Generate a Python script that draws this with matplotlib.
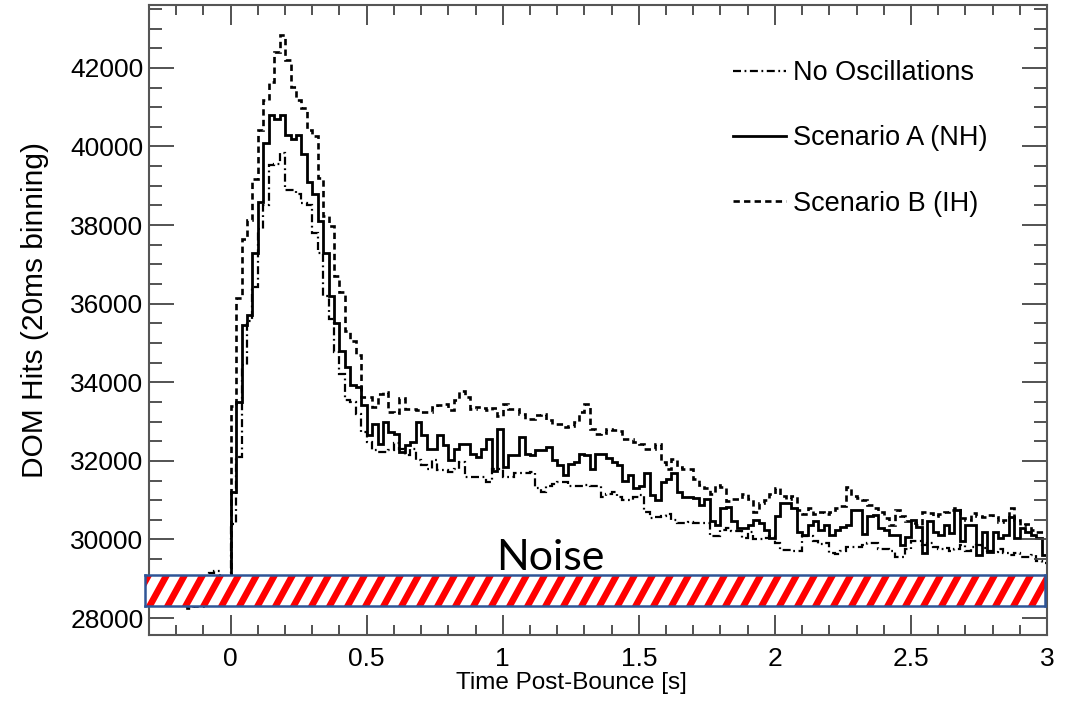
import numpy as np
import matplotlib
matplotlib.use("Agg")
import matplotlib.pyplot as plt
from matplotlib.patches import Polygon
from matplotlib.ticker import MultipleLocator, FuncFormatter

plt.rcParams['font.family'] = ['Liberation Sans', 'DejaVu Sans']

# 20 ms bins, -0.3 s .. 3.0 s
bin_edges = np.round(np.arange(-0.30, 3.0001, 0.02), 2)

# DOM hits per bin
no_osc = [
    28600, 28750, 28700, 28650, 28700, 28750, 28650, 28700, 28650, 28700, 28700, 29150, 29200, 28700, 28800,
    30400, 32100, 34450, 35560, 36430, 37890, 38520, 39540, 39560, 39840, 38900, 38900, 38800, 38570, 38520,
    37810, 37300, 36200, 35610, 34770,
    34200, 33540, 33500, 33200, 32740, 32490, 32270, 32230, 32230, 32270, 32450, 32300, 32140, 32300, 32015,
    31890, 31800, 32015, 31780, 31780, 31730, 31800,
    31970, 31600, 31600, 31600, 31600, 31470, 31800, 31800, 31600, 31600, 31680, 31700, 31700, 31720, 31300,
    31220, 31350, 31400, 31470, 31470, 31350, 31350, 31350,
    31390, 31350, 31350, 31090, 31150, 31200, 31090, 31010, 31010, 31090, 31130, 30710, 30540, 30560, 30600,
    30640, 30490, 30430, 30430, 30450, 30430, 30430,
    30430, 30100, 30100, 30250, 30300, 30220, 30220, 30030, 30180, 30000, 30000, 30050, 30100, 29900, 29730,
    29730, 29700, 29700, 30100, 30100, 29950, 29880, 29900,
    29650, 29620, 29700, 29800, 29800, 29800, 29850, 29900, 29900, 29750, 29750, 29700, 29550, 29550, 29750,
    29950, 29950, 29850, 29900, 29800, 29750,
    29780, 29700, 29750, 29860, 29700, 29820, 29850, 29780, 29700, 29690, 29750, 29650, 29600, 29650, 29560,
    29560, 29600, 29450, 29400,
]

scen_a = [
    28650, 28700, 28600, 28750, 28650, 28700, 28600, 28750, 28700, 28650, 28700, 28750, 28800, 28700, 28750,
    31200, 33500, 35450, 35700, 37300, 38600, 40100, 40800, 40700, 40800, 40300, 40200, 40300, 39800, 39100,
    38800, 38100, 37300, 36200, 35500,
    34800, 34380, 33920, 33870, 33410, 32650, 32945, 32440, 32990, 32735, 32690, 32230, 32400, 32490, 32990,
    32650, 32310, 32310, 32650, 32400, 32015, 32310,
    32440, 32440, 32180, 32100, 32310, 32565, 31750, 32820, 31850, 32140, 32140, 32610, 32180, 32140, 32270,
    32270, 32350, 32015, 31890, 31635, 31930, 31970, 32180,
    32140, 31800, 32180, 32180, 32070, 31970, 31890, 31500, 31650, 31320, 31350, 31680, 31130, 31000, 31470,
    31550, 31680, 31210, 31090, 31090, 31050, 30890,
    31040, 30460, 30380, 30790, 30830, 30460, 30280, 30280, 30380, 30500, 30420, 30240, 30050, 30590, 30920,
    30920, 30800, 30200, 30120, 30380, 30460, 30250, 30380,
    30110, 30240, 30330, 30380, 30750, 30750, 30150, 30590, 30620, 30280, 30240, 30110, 30110, 29860, 30070,
    30490, 30330, 29650, 30460, 30200, 30110,
    30370, 30160, 30750, 29950, 30370, 30370, 29600, 30200, 29690, 30200, 30030, 30110, 30580, 30030, 30280,
    30200, 30110, 30030, 29600,
]

scen_b = [
    28700, 28650, 28600, 28700, 28650, 28700, 28300, 28250, 28300, 28300, 28700, 28750, 28700, 28800, 28750,
    33400, 36150, 37640, 38140, 39160, 40430, 41190, 41650, 42410, 42840, 42200, 41520, 41190, 40980, 40430,
    40260, 39200, 38230, 37970, 36710,
    36300, 35300, 35060, 34700, 33630, 33630, 33380, 33700, 33750, 33240, 33220, 33600, 33330, 33330, 33300,
    33240, 33240, 33380, 33430, 33450, 33300, 33540,
    33790, 33630, 33330, 33370, 33350, 33300, 33350, 33150, 33450, 33330, 33330, 33200, 33070, 33070, 33170,
    33200, 33030, 32945, 32945, 32850, 32900, 33000, 33250,
    33450, 32820, 32690, 32720, 32820, 32780, 32760, 32565, 32565, 32490, 32420, 32310, 32310, 32440, 31970,
    31800, 32060, 31850, 31800, 31800, 31550, 31380,
    31300, 31170, 31380, 31330, 30970, 31040, 31040, 31170, 31040, 30710, 30920, 31000, 31150, 31300, 31110,
    31040, 31100, 30750, 30650, 30800, 30650, 30700, 30650,
    30700, 30790, 30850, 31340, 31100, 31050, 31000, 30870, 30800, 30710, 30550, 30380, 30750, 30590, 30460,
    30420, 30380, 30710, 30670, 30590, 30650,
    30700, 30750, 30790, 30540, 30500, 30670, 30600, 30580, 30620, 30580, 30450, 30500, 30790, 30500, 30370,
    30400, 30240, 30200, 30200,
]

# noise band drawn on top of the histogram
noise_t = (-0.315, 2.993)
noise_hits = (28305, 29095)

fig = plt.figure(figsize=(10.67, 7.01), dpi=100)
ax = fig.add_axes([149 / 1067, 1 - 635 / 701, 898 / 1067, 630 / 701])

ax.stairs(no_osc, bin_edges, baseline=None, color='black', lw=1.6,
          linestyle=(0, (3.6, 1.6, 0.8, 1.6)), label='No Oscillations')
ax.stairs(scen_a, bin_edges, baseline=None, color='black', lw=2.0,
          label='Scenario A (NH)')
ax.stairs(scen_b, bin_edges, baseline=None, color='black', lw=1.9,
          linestyle=(0, (2.4, 1.6)), label='Scenario B (IH)')

ax.set_xlim(-0.3, 3.0)
ax.set_ylim(27570, 43600)

ax.xaxis.set_major_locator(MultipleLocator(0.5))
ax.xaxis.set_minor_locator(MultipleLocator(0.1))
ax.yaxis.set_major_locator(MultipleLocator(2000))
ax.yaxis.set_minor_locator(MultipleLocator(500))
ax.xaxis.set_major_formatter(FuncFormatter(lambda v, p: '%g' % v))
ax.yaxis.set_major_formatter(FuncFormatter(lambda v, p: '%d' % v))

ax.tick_params(which='both', direction='in', top=True, right=True,
               color='#444444', width=1.3, labelsize=19)
ax.tick_params(axis='y', which='major', length=18, pad=4)
ax.tick_params(axis='y', which='minor', length=9.5)
ax.tick_params(axis='x', which='major', length=14.5, pad=9)
ax.tick_params(axis='x', which='minor', length=7.2)
for s in ax.spines.values():
    s.set_color('#555555')
    s.set_linewidth(1.5)

ax.set_xlabel('Time Post-Bounce [s]', fontsize=17.5)
ax.set_ylabel('DOM Hits (20ms binning)', fontsize=21.5)
ax.xaxis.set_label_coords((571 - 149) / 898, (635 - 672) / 630)
ax.yaxis.set_label_coords((35 - 149) / 898, (635 - 310) / 630)
ax.yaxis.label.set_va('center')

ax.legend(loc='upper left', bbox_to_anchor=((733 - 149) / 898, 1 - (60 - 5) / 630),
          frameon=False, fontsize=19.5, handlelength=1.95, handletextpad=0.25,
          labelspacing=1.45, borderpad=0, borderaxespad=0)

# band: own axes in pixel units over the data range of the noise level
(x0, y0), (x1, y1) = ax.transData.transform([(noise_t[0], noise_hits[0]),
                                             (noise_t[1], noise_hits[1])])
W, H = fig.bbox.width, fig.bbox.height
bax = fig.add_axes([x0 / W, y0 / H, (x1 - x0) / W, (y1 - y0) / H], zorder=5)
bw, bh = x1 - x0, y1 - y0
bax.set_xlim(0, bw)
bax.set_ylim(0, bh)
bax.set_xticks([])
bax.set_yticks([])
period, stripe, lean = 18.0, 7.5, 0.55 * bh
for s in np.arange(-lean - period, bw + period, period):
    bax.add_patch(Polygon([(s, 0), (s + stripe, 0), (s + stripe + lean, bh), (s + lean, bh)],
                          closed=True, facecolor='red', edgecolor='none'))
for sp in bax.spines.values():
    sp.set_color('#2F5597')
    sp.set_linewidth(1.8)

ax.text(1.176, 29220, 'Noise', fontsize=31, family=['Lato', 'DejaVu Sans'],
        ha='center', va='baseline', zorder=7)

fig.savefig('out.png', dpi=100)
